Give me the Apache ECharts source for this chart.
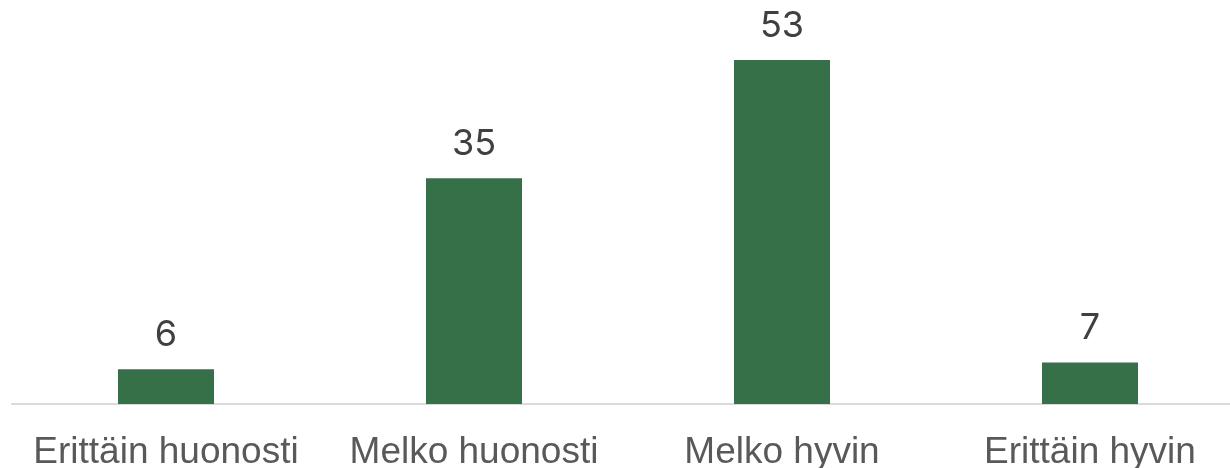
<!DOCTYPE html>
<html>
<head>
<meta charset="utf-8">
<script src="https://cdn.jsdelivr.net/npm/echarts@6/dist/echarts.min.js"></script>
<style>
  html, body { margin: 0; padding: 0; background: #fff; }
  #main { width: 1230px; height: 468px; }
</style>
</head>
<body>
<div id="main"></div>
<script>
// vastausvaihtoehdot ja osuudet
var categories = ['Erittäin huonosti', 'Melko huonosti', 'Melko hyvin', 'Erittäin hyvin'];
var values = [6, 35, 53, 7];

var myChart = echarts.init(document.getElementById('main'));

var option = {
    animation: false,
    grid: { left: 12, width: 1232, top: 0, bottom: 64, outerBoundsMode: 'none', containLabel: false },
    xAxis: {
        type: 'category',
        data: categories,
        axisLine: { lineStyle: { color: '#d9d9d9', width: 2 } },
        axisTick: { show: false },
        axisLabel: {
            color: '#595959',
            fontFamily: 'Liberation Sans',
            fontSize: 37,
            margin: 30,
            interval: 0
        }
    },
    yAxis: {
        type: 'value',
        min: 0.7,
        max: 62.1,
        show: false,
        splitLine: { show: false }
    },
    series: [{
        type: 'bar',
        data: values,
        barWidth: 96,
        itemStyle: { color: '#367048' },
        label: {
            show: true,
            position: 'top',
            distance: 16,
            color: '#404040',
            fontFamily: 'Inter',
            fontSize: 36
        }
    }]
};
myChart.setOption(option);
</script>
</body>
</html>
